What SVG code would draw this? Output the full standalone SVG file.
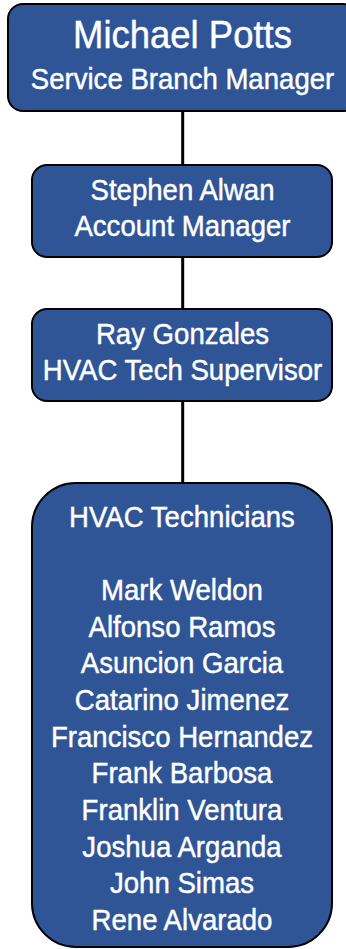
<svg xmlns="http://www.w3.org/2000/svg" width="346" height="949" viewBox="0 0 346 949">
<style>
.box{fill:#2f5597;stroke:#000;stroke-width:2}
.t{font-family:"Liberation Sans",Arial,sans-serif;fill:#fff;stroke:#fff;stroke-width:0.45;text-anchor:middle;font-size:29.5px}
.big{font-size:39px}
.conn{stroke:#000;stroke-width:3;fill:none}
</style>
<rect width="346" height="949" fill="#fff"/>
<g id="connectors">
<line class="conn" x1="182.7" y1="111" x2="182.7" y2="165"/>
<line class="conn" x1="182.7" y1="257" x2="182.7" y2="309"/>
<line class="conn" x1="182.7" y1="401" x2="182.7" y2="483"/>
</g>
<g id="node-potts">
<rect class="box" x="8" y="4" width="350" height="107" rx="15"/>
<g transform="translate(182.5 0) scale(0.935 1)">
<text class="t big" x="0" y="48.5">Michael Potts</text>
<text class="t" x="0" y="89.5">Service Branch Manager</text>
</g>
</g>
<g id="node-alwan">
<rect class="box" x="32" y="165" width="300" height="92" rx="15"/>
<g transform="translate(182.5 0) scale(0.935 1)">
<text class="t" x="0" y="200">Stephen Alwan</text>
<text class="t" x="0" y="236">Account Manager</text>
</g>
</g>
<g id="node-gonzales">
<rect class="box" x="32" y="309" width="300" height="92" rx="15"/>
<g transform="translate(182.5 0) scale(0.935 1)">
<text class="t" x="0" y="344">Ray Gonzales</text>
<text class="t" x="0" y="380">HVAC Tech Supervisor</text>
</g>
</g>
<g id="node-technicians">
<rect class="box" x="32" y="483" width="300" height="464" rx="44"/>
<g transform="translate(182 0) scale(0.935 1)">
<text class="t" x="0" y="526.7">HVAC Technicians</text>
<text class="t" x="0" y="600">Mark Weldon</text>
<text class="t" x="0" y="636.7">Alfonso Ramos</text>
<text class="t" x="0" y="673.3">Asuncion Garcia</text>
<text class="t" x="0" y="710">Catarino Jimenez</text>
<text class="t" x="0" y="746.7">Francisco Hernandez</text>
<text class="t" x="0" y="783.3">Frank Barbosa</text>
<text class="t" x="0" y="820">Franklin Ventura</text>
<text class="t" x="0" y="856.7">Joshua Arganda</text>
<text class="t" x="0" y="893.3">John Simas</text>
<text class="t" x="0" y="930">Rene Alvarado</text>
</g>
</g>
</svg>
